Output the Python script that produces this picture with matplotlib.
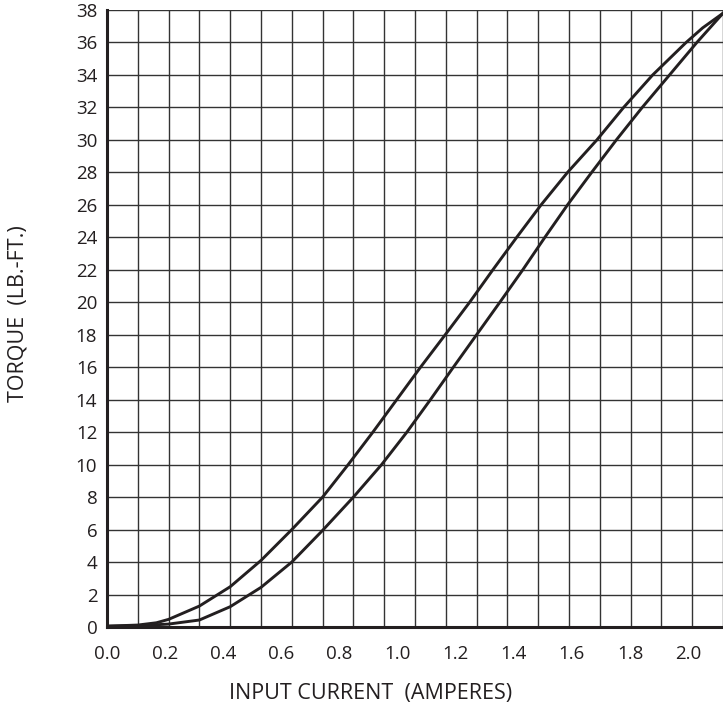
import numpy as np
import matplotlib
matplotlib.use('Agg')
import matplotlib.pyplot as plt

plt.rcParams['font.family'] = ['Open Sans', 'DejaVu Sans']

# increasing / decreasing current branches (amperes, lb-ft)
upper_amps = [0.000, 0.106, 0.170, 0.212, 0.318, 0.424, 0.530, 0.636, 0.742, 0.830, 0.915,
              0.997, 1.079, 1.164, 1.248, 1.328, 1.410, 1.494, 1.585, 1.686, 1.778, 1.878,
              1.993, 2.050, 2.120]
upper_torque = [0.05, 0.12, 0.26, 0.47, 1.29, 2.48, 4.1, 6.0, 8.0, 10, 12,
                14, 16, 18, 20, 22, 24, 26, 28, 30, 32, 34,
                36, 36.9, 37.8]

lower_amps = [0.000, 0.106, 0.212, 0.318, 0.424, 0.530, 0.636, 0.742, 0.848, 0.945, 1.032,
              1.113, 1.192, 1.272, 1.352, 1.431, 1.507, 1.585, 1.668, 1.753, 1.842, 1.936,
              2.030, 2.120]
lower_torque = [0.05, 0.08, 0.18, 0.43, 1.25, 2.44, 4.0, 5.95, 8.0, 10, 12,
                14, 16, 18, 20, 22, 24, 26, 28, 30, 32, 34,
                36, 37.8]

x_ticks = [0.0, 0.2, 0.4, 0.6, 0.8, 1.0, 1.2, 1.4, 1.6, 1.8, 2.0]
y_ticks = list(range(0, 39, 2))

x_max = 2.12
y_max = 38

ink = '#231f20'

fig = plt.figure(figsize=(7.23, 7.06), dpi=100)
ax = fig.add_axes([107 / 723, 79 / 706, 616 / 723, 617 / 706])

ax.set_xlim(0, x_max)
ax.set_ylim(0, y_max)

# grid: 20 columns across, one row per 2 lb-ft
for gx in np.linspace(0, x_max, 21)[1:]:
    ax.axvline(gx, color='#333333', lw=1.0, zorder=1)
for gy in y_ticks[1:]:
    ax.axhline(gy, color='#333333', lw=1.0, zorder=1)

ax.plot(upper_amps, upper_torque, color=ink, lw=2.1, zorder=3, solid_joinstyle='round')
ax.plot(lower_amps, lower_torque, color=ink, lw=2.1, zorder=3, solid_joinstyle='round')

ax.set_xticks(x_ticks)
ax.set_xticklabels([f'{v:.1f}' for v in x_ticks])
ax.set_yticks(y_ticks)
ax.set_yticklabels([str(v) for v in y_ticks])
ax.tick_params(axis='both', length=0, labelsize=13.5, colors=ink)
ax.tick_params(axis='x', pad=13)
ax.tick_params(axis='y', pad=7)

for side in ['top', 'right']:
    ax.spines[side].set_visible(False)
for side in ['left', 'bottom']:
    ax.spines[side].set_linewidth(2.2)
    ax.spines[side].set_color(ink)
    ax.spines[side].set_zorder(4)

fig.text(371 / 723, 1 - 693 / 706, 'INPUT CURRENT  (AMPERES)', ha='center', va='center',
         fontsize=15.5, color=ink)
fig.text(18 / 723, 1 - 314 / 706, 'TORQUE  (LB.-FT.)', ha='center', va='center',
         rotation=90, fontsize=15.5, color=ink)

fig.savefig('out.png', dpi=100)
